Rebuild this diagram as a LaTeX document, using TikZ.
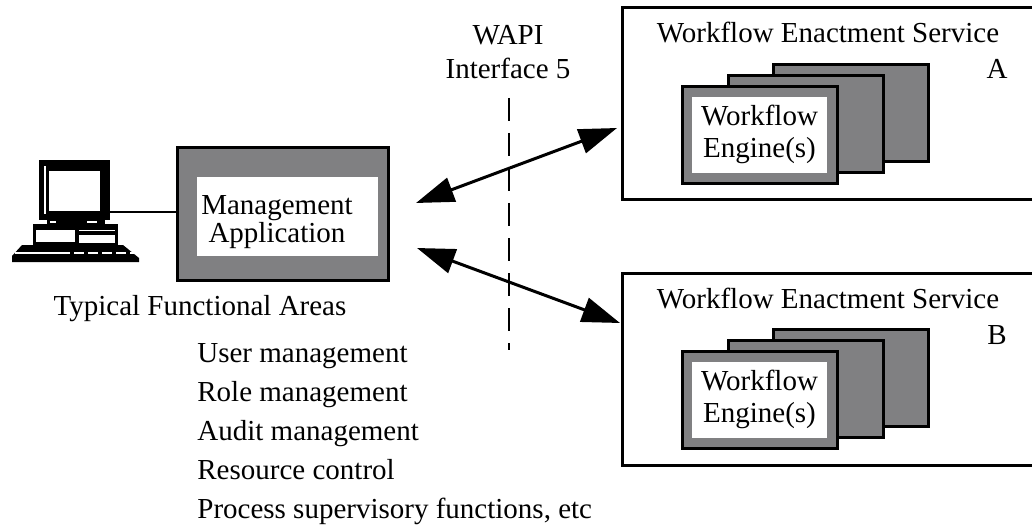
\documentclass[tikz,border=0pt]{standalone}
\usepackage{fontspec}
\setmainfont{Liberation Serif}
\usetikzlibrary{arrows.meta}

\definecolor{cardgray}{RGB}{128,128,130}

\begin{document}
\begin{tikzpicture}[x=0.5pt,y=-0.5pt,
  every node/.style={font=\fontsize{14.5}{19.5}\selectfont, inner sep=0pt},
  frame/.style={draw, line width=1.5pt, rectangle},
  card/.style={frame, fill=cardgray, minimum width=77.5pt, minimum height=48.5pt},
  pane/.style={fill=white, rectangle},
  link/.style={line width=1.5pt, {Triangle[length=19pt,width=12.5pt]}-{Triangle[length=19pt,width=12.5pt]}},
  ifline/.style={line width=0.8pt, dash pattern=on 11.5pt off 6pt}]
\useasboundingbox (0,0) rectangle (1032,529);
\clip (0,0) rectangle (1032,529);

% computer
\fill (39,160) rectangle (110,220);
\fill[white] (49,171) rectangle (100,211);
\fill[white] (44,166) rectangle (45.5,214);
\fill (47,219) rectangle (105,227);
\fill[white] (50,221) rectangle (56,223.5);
\fill[white] (87,221) rectangle (97,223.5);
\fill (33,224) rectangle (118,246);
\fill[white] (36,230) rectangle (75,242);
\fill[white] (79,235) rectangle (115,243);
\fill[white] (79,230.5) rectangle (115,231.5);
\fill (22,245) -- (123,245) -- (139,258) -- (139,262) -- (12,262) -- (12,256) -- cycle;
\draw[white, line width=0.6pt] (15,253) -- (60,253);
\draw[white, line width=0.6pt, dash pattern=on 5pt off 2pt] (60,253) -- (136,253);
\coordinate (pc) at (110,212);

% management application
\node[frame, fill=cardgray, minimum width=105.5pt, minimum height=66pt] (mgmt) at (282.5,214) {};
\node[pane, minimum width=90.5pt, minimum height=39.5pt] (mgmtpane) at (287.5,216.5) {};
\node[align=center, font=\fontsize{14.5}{14}\selectfont] (mgmttext) at (277,222) {Management\\Application};
\draw[line width=1.2pt] (pc) -- (pc -| mgmt.west);

% functional areas
\node[anchor=base] (areas) at (200,315) {Typical Functional Areas};
\foreach \t [count=\i from 0] in {User management, Role management, Audit management, Resource control, {Process supervisory functions, etc}}
  \node[anchor=base west] (area\i) at (197,362+39*\i) {\t};

% interface 5
\node[anchor=base] (wapi) at (508,45) {WAPI};
\node[anchor=base] (iface) at (508,79) {Interface 5};
\coordinate (if1) at (509,98);
\coordinate (if2) at (509,350);
\draw[ifline] (if1) -- (if2);

% enactment services
\foreach \s/\dy in {A/0, B/265} {
  \node[frame, minimum width=212pt, minimum height=96pt] (svc\s) at (834,104+\dy) {};
  \node[anchor=base] (svctitle\s) at (828,43+\dy) {Workflow Enactment Service};
  \node[anchor=base] (svclabel\s) at (997,79+\dy) {\s};
  \node[card] (back\s) at (851,113+\dy) {};
  \node[card] (mid\s) at (806,124+\dy) {};
  \node[card] (eng\s) at (760,135+\dy) {};
  \node[pane, minimum width=67.5pt, minimum height=38pt] (engpane\s) at (759.5,135+\dy) {};
  \node[align=center, font=\fontsize{14.5}{16}\selectfont] (engtext\s) at (759.5,134+\dy) {Workflow\\Engine(s)};
}

% links
\coordinate (a1) at (416,203);
\coordinate (a2) at (617,128);
\coordinate (b1) at (417,248);
\coordinate (b2) at (620,323);
\draw[link] (a1) -- (a2);
\draw[link] (b1) -- (b2);

\end{tikzpicture}
\end{document}
